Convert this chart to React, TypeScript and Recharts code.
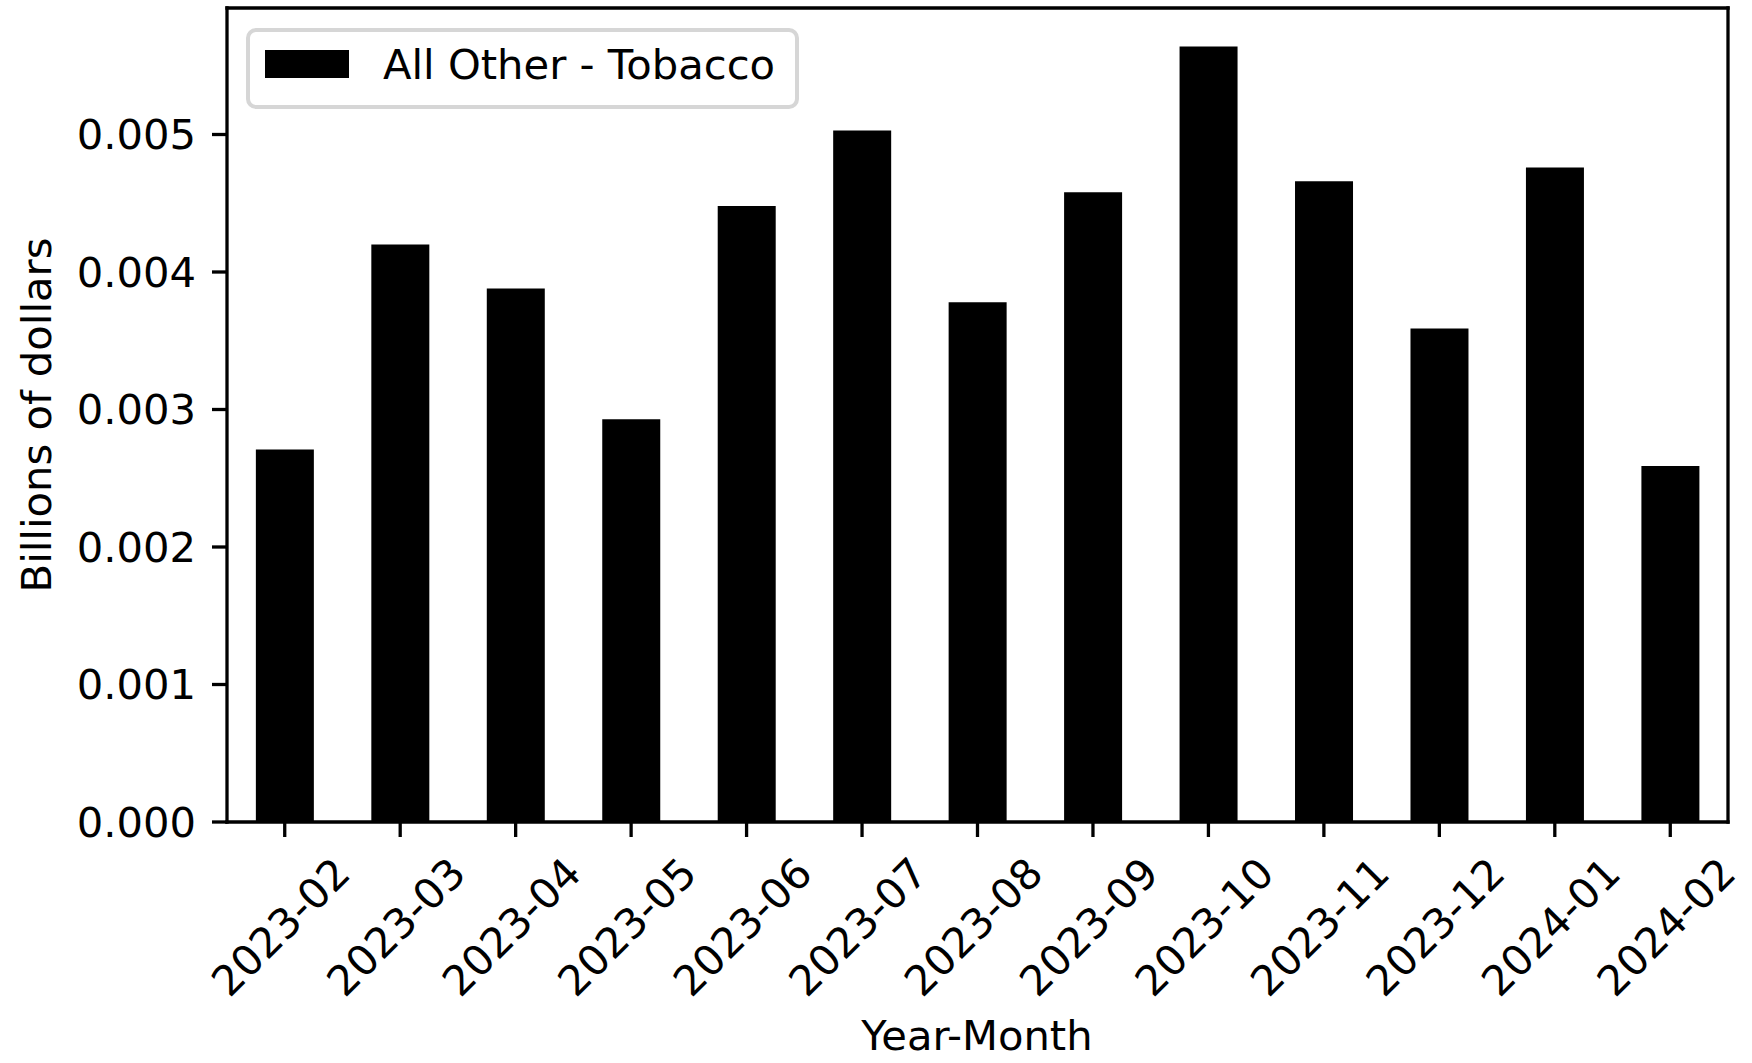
import React from "react";
import { BarChart, Bar, XAxis, YAxis, Legend, ReferenceLine } from "recharts";

// monthly values, billions of dollars
const months = [
  "2023-02",
  "2023-03",
  "2023-04",
  "2023-05",
  "2023-06",
  "2023-07",
  "2023-08",
  "2023-09",
  "2023-10",
  "2023-11",
  "2023-12",
  "2024-01",
  "2024-02",
];
const tobacco = [
  0.00271, 0.0042, 0.00388, 0.00293, 0.00448, 0.00503, 0.00378, 0.00458,
  0.00564, 0.00466, 0.00359, 0.00476, 0.00259,
];
const yTicks = [0, 0.001, 0.002, 0.003, 0.004, 0.005];
const yMax = 0.00592;

const seriesName = "All Other - Tobacco";
const FONT = "DejaVu Sans";
const FS = 41.7;
const LW = 3.3;

const chartData = months.map((m, i) => ({ month: m, value: tobacco[i] }));

function XTick(props: any) {
  const { x, y, payload } = props;
  const cx = x - 4;
  const cy = y + 90;
  return (
    <text
      x={cx}
      y={cy}
      textAnchor="middle"
      dominantBaseline="central"
      transform={`rotate(-45, ${cx}, ${cy})`}
      fontFamily={FONT}
      fontSize={FS}
      fill="#000"
    >
      {payload.value}
    </text>
  );
}

function LegendBox() {
  return (
    <svg width={560} height={86} style={{ display: "block", overflow: "visible" }}>
      <rect
        x={4}
        y={4}
        width={549}
        height={77}
        rx={8}
        ry={8}
        fill="#fff"
        fillOpacity={0.8}
        stroke="#d6d6d6"
        strokeWidth={4}
      />
      <rect x={21} y={24} width={84} height={28} fill="#000" />
      <text x={139} y={53} fontFamily={FONT} fontSize={FS} fill="#000">
        {seriesName}
      </text>
    </svg>
  );
}

export default function App() {
  return (
    <div
      style={{
        position: "absolute",
        left: 0,
        top: 0,
        width: 1752,
        height: 1063,
        background: "#fff",
      }}
    >
      <BarChart
        width={1752}
        height={1063}
        data={chartData}
        margin={{ top: 8, right: 24, left: 0, bottom: 0 }}
        barCategoryGap="25%"
      >
        <XAxis
          dataKey="month"
          height={241}
          tickSize={15}
          tickMargin={0}
          interval={0}
          tick={<XTick />}
          axisLine={{ stroke: "#000", strokeWidth: LW, strokeLinecap: "square" }}
          tickLine={{ stroke: "#000", strokeWidth: LW }}
          label={() => (
            <text
              x={977}
              y={1050}
              textAnchor="middle"
              fontFamily={FONT}
              fontSize={FS}
              fill="#000"
            >
              Year-Month
            </text>
          )}
        />
        <YAxis
          width={227}
          domain={[0, yMax]}
          ticks={yTicks}
          tickSize={15}
          tickMargin={16}
          tickFormatter={(v: number) => v.toFixed(3)}
          tick={{ fontFamily: FONT, fontSize: FS, fill: "#000" }}
          axisLine={{ stroke: "#000", strokeWidth: LW, strokeLinecap: "square" }}
          tickLine={{ stroke: "#000", strokeWidth: LW }}
          label={() => (
            <text
              x={36}
              y={415}
              textAnchor="middle"
              dominantBaseline="central"
              transform="rotate(-90, 36, 415)"
              fontFamily={FONT}
              fontSize={FS}
              fill="#000"
            >
              Billions of dollars
            </text>
          )}
        />
        <Legend
          content={() => <LegendBox />}
          wrapperStyle={{
            position: "absolute",
            left: 244,
            top: 26,
            width: 0,
            height: 0,
            overflow: "visible",
          }}
        />
        <Bar
          dataKey="value"
          name={seriesName}
          fill="#000"
          isAnimationActive={false}
        />
        {/* top and right spines */}
        <ReferenceLine
          y={yMax}
          ifOverflow="visible"
          stroke="#000"
          strokeWidth={LW}
          strokeLinecap="square"
        />
        <ReferenceLine
          x={months[months.length - 1]}
          position="end"
          ifOverflow="visible"
          stroke="#000"
          strokeWidth={LW}
          strokeLinecap="square"
        />
      </BarChart>
    </div>
  );
}
